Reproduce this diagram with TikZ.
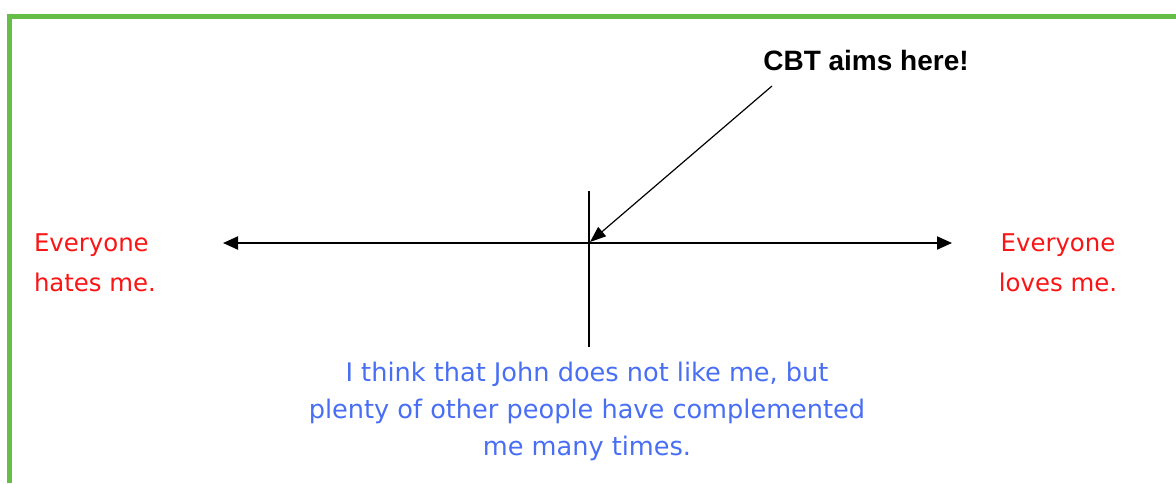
\documentclass[tikz,border=0pt]{standalone}
\usepackage{fontspec}
\setmainfont{DejaVu Sans}
\newfontfamily\headfont{Liberation Sans}
\usepackage{xcolor}
\usetikzlibrary{arrows.meta,positioning}

\definecolor{frameGreen}{RGB}{102,189,72}
\definecolor{extremeRed}{RGB}{250,20,20}
\definecolor{thoughtBlue}{RGB}{72,110,245}

\begin{document}
\begin{tikzpicture}[x=0.5pt, y=-0.5pt,
  every node/.style={inner sep=0pt, outer sep=0pt},
  extreme/.style={text=extremeRed, font=\fontsize{12.2}{20}\selectfont},
  thought/.style={text=thoughtBlue, align=center, font=\fontsize{12.8}{18.5}\selectfont},
  aim/.style={font=\headfont\bfseries\fontsize{14}{16}\selectfont},
  axis/.style={{Triangle[length=7.5pt,width=6.5pt]}-{Triangle[length=7.5pt,width=6.5pt]}, line width=1pt},
  pointer/.style={-{Triangle[length=8pt,width=6pt]}, line width=0.6pt},
  frame/.style={draw=frameGreen, line width=2.8pt}
]
\useasboundingbox (0,0) rectangle (1176,483);
% green frame (open at right and bottom)
\draw[frame] (9.5,483) -- (9.5,16.5) -- (1176,16.5);

% axis ends and centre
\coordinate (hate) at (223,243);
\coordinate (love) at (952,243);
\coordinate (mid) at (590,242);
\coordinate (top) at (589,191);
\coordinate (bottom) at (589,347);
\coordinate (aimstart) at (772,86);

\node[extreme, align=left, anchor=west] (hates) at (34,263) {Everyone\\hates me.};
\node[extreme, align=center] (loves) at (1058,263) {Everyone\\loves me.};
\node[aim] (cbt) at (866,60) {CBT aims here!};
\node[thought] (john) at (587,411) {I think that John does not like me, but\\plenty of other people have complemented\\me many times.};

\draw[axis] (hate) -- (love);
\draw[line width=1pt] (top) -- (bottom);
\draw[pointer] (aimstart) -- (mid);
\end{tikzpicture}
\end{document}
